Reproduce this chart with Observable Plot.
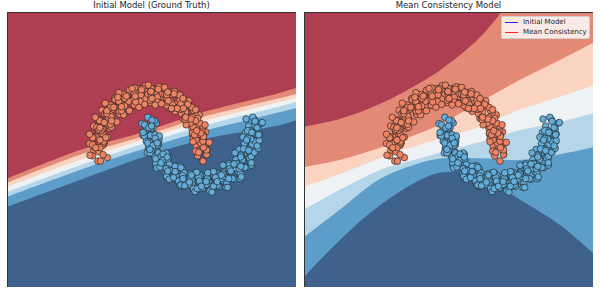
<!DOCTYPE html>
<html><head><meta charset="utf-8">
<script src="https://cdn.jsdelivr.net/npm/d3@7"></script>
<script src="https://cdn.jsdelivr.net/npm/@observablehq/plot@0.6"></script>
<style>
body{margin:0;background:#fff;font-family:"DejaVu Sans",sans-serif;}
#wrap{position:relative;width:600px;height:294px;overflow:hidden;background:#fff;}
.panel{position:absolute;top:12px;}
.title{position:absolute;top:0;font-size:8.5px;color:#222;text-align:center;width:289px;line-height:11px;white-space:nowrap;}
.legend{position:absolute;left:501px;top:16px;width:87px;height:21px;background:rgba(255,255,255,0.82);border:1px solid #d0d0d0;border-radius:2px;font-size:7px;color:#222;}
.legend .row{position:absolute;left:0;height:9px;line-height:9px;white-space:nowrap;}
.legend .ln{position:absolute;left:3px;width:13px;height:1.2px;}
.legend .tx{position:absolute;left:21px;top:0;}
</style></head><body><div id="wrap"></div>
<script>
// ---- data ----
const titles = ["Initial Model (Ground Truth)", "Mean Consistency Model"];
const legendLabels = ["Initial Model", "Mean Consistency"];
const legendColors = ["#1f1fff", "#ff2020"];
const levelColors = ["#b03e53","#e38a76","#fad4c0","#eef2f5","#b4d6e8","#5d9dc9","#3e628c"];

// decision-region boundaries (levels 1..6), sampled at x positions
const leftX = [-2.70, -1.31, -0.17, 0.97, 2.50, 2.80];
const leftB1 = [-0.45, 0.04, 0.33, 0.67, 1.02, 1.10];
const leftB2 = [-0.52, -0.04, 0.26, 0.59, 0.93, 1.00];
const leftB3 = [-0.59, -0.13, 0.20, 0.52, 0.86, 0.93];
const leftB4 = [-0.68, -0.22, 0.13, 0.44, 0.79, 0.86];
const leftB5 = [-0.76, -0.30, 0.04, 0.35, 0.69, 0.76];
const leftB6 = [-0.93, -0.47, -0.10, 0.21, 0.47, 0.55];

const rightX = [-2.70, -2.02, -1.25, -0.49, -0.06, 0.65, 1.41, 2.17, 2.80];
const rightB1 = [0.44, 0.57, 0.83, 1.19, 1.44, 1.97, 2.78, 3.40, 4.00];
const rightB2 = [-0.25, -0.13, 0.08, 0.33, 0.50, 0.86, 1.24, 1.58, 1.87];
const rightB3 = [-0.59, -0.37, -0.10, 0.13, 0.25, 0.44, 0.73, 0.95, 1.15];
const rightB4 = [-0.98, -0.64, -0.30, -0.10, 0.01, 0.18, 0.38, 0.52, 0.67];
const rightB5 = [-1.45, -0.98, -0.45, -0.18, -0.10, -0.10, -0.13, -0.03, 0.09];
const rightB6 = [-2.13, -1.50, -0.90, -0.47, -0.34, -0.40, -0.81, -1.24, -1.72];

// class 0 (upper moon, red)
const redX = [1.06,0.92,1.02,0.89,1.09,1.00,1.12,0.96,0.92,1.01,0.83,1.07,1.01,0.87,0.97,0.81,1.01,0.92,1.02,0.86,0.82,0.89,0.71,0.95,0.87,0.73,0.83,0.65,0.85,0.76,0.84,0.68,0.64,0.69,0.51,0.75,0.65,0.51,0.61,0.41,0.61,0.52,0.58,0.42,0.38,0.42,0.24,0.48,0.37,0.23,0.33,0.12,0.32,0.23,0.29,0.13,0.09,0.12,-0.06,0.18,0.06,-0.08,0.02,-0.19,0.01,-0.08,-0.03,-0.19,-0.23,-0.19,-0.37,-0.13,-0.25,-0.39,-0.29,-0.49,-0.29,-0.38,-0.32,-0.48,-0.52,-0.48,-0.66,-0.42,-0.53,-0.67,-0.57,-0.76,-0.56,-0.65,-0.58,-0.74,-0.78,-0.72,-0.90,-0.66,-0.75,-0.89,-0.79,-0.96,-0.76,-0.85,-0.76,-0.92,-0.96,-0.88,-1.06,-0.82,-0.89,-1.03,-0.93,-1.08,-0.88,-0.97,-0.86,-1.02,-1.06,-0.96,-1.14,-0.90,-0.94,-1.08,-0.98,-0.80,
1.02,0.88,1.09,0.94,1.14,0.83,1.09,0.89,1.03,0.94,1.03,0.83,0.96,0.82,1.03,0.86,1.06,0.75,0.98,0.78,0.92,0.81,0.90,0.70,0.81,0.67,0.88,0.68,0.88,0.57,0.79,0.59,0.73,0.60,0.69,0.49,0.58,0.44,0.65,0.44,0.64,0.33,0.53,0.33,0.47,0.33,0.42,0.22,0.29,0.15,0.36,0.15,0.35,0.04,0.23,0.03,0.17,0.02,0.11,-0.09,-0.02,-0.16,0.05,-0.17,0.03,-0.28,-0.09,-0.29,-0.15,-0.29,-0.20,-0.40,-0.33,-0.47,-0.26,-0.47,-0.27,-0.58,-0.38,-0.58,-0.44,-0.58,-0.49,-0.69,-0.60,-0.74,-0.53,-0.73,-0.53,-0.84,-0.62,-0.82,-0.68,-0.81,-0.72,-0.92,-0.81,-0.95,-0.74,-0.92,-0.72,-1.03,-0.80,-1.00,-0.86,-0.96,-0.87,-1.07,-0.94,-1.08,-0.87,-1.03,-0.83,-1.14,-0.88,-1.08,-0.94,-1.02,-0.93,-1.13];
const redY = [0.09,-0.05,-0.14,0.12,-0.02,0.23,0.17,0.27,0.04,0.17,0.31,0.36,0.40,0.26,0.17,0.42,0.28,0.53,0.46,0.56,0.33,0.46,0.60,0.65,0.68,0.54,0.45,0.69,0.55,0.80,0.72,0.82,0.59,0.70,0.84,0.89,0.90,0.76,0.67,0.89,0.75,1.00,0.90,1.00,0.77,0.86,1.00,1.05,1.04,0.90,0.81,1.01,0.87,1.12,1.00,1.10,0.87,0.94,1.08,1.13,1.09,0.95,0.86,1.04,0.90,1.15,1.00,1.10,0.87,0.91,1.05,1.10,1.04,0.90,0.81,0.96,0.82,1.07,0.90,1.00,0.77,0.79,0.93,0.98,0.90,0.76,0.67,0.80,0.66,0.91,0.72,0.82,0.59,0.59,0.73,0.78,0.68,0.54,0.45,0.56,0.42,0.67,0.46,0.56,0.33,0.32,0.46,0.51,0.40,0.26,0.17,0.27,0.13,0.38,0.17,0.27,0.04,0.02,0.16,0.21,0.09,-0.05,-0.14,-0.08,
0.20,0.03,-0.03,0.01,0.18,0.24,0.05,0.22,0.30,0.32,0.09,0.19,0.51,0.34,0.28,0.31,0.48,0.54,0.34,0.51,0.59,0.61,0.38,0.48,0.78,0.61,0.55,0.57,0.74,0.80,0.58,0.75,0.83,0.84,0.61,0.71,0.99,0.82,0.76,0.76,0.93,0.99,0.76,0.93,1.01,0.99,0.76,0.86,1.12,0.95,0.89,0.87,1.04,1.10,0.84,1.01,1.09,1.05,0.82,0.92,1.16,0.99,0.93,0.88,1.05,1.11,0.83,1.00,1.08,1.01,0.78,0.88,1.10,0.93,0.87,0.80,0.97,1.03,0.72,0.89,0.97,0.88,0.65,0.75,0.95,0.78,0.72,0.62,0.79,0.85,0.53,0.70,0.78,0.67,0.44,0.54,0.72,0.55,0.49,0.38,0.55,0.61,0.27,0.44,0.52,0.40,0.17,0.27,0.43,0.26,0.20,0.09,0.26,0.32,-0.03,0.14,0.22,0.09,-0.14,-0.04];

// class 1 (lower moon, blue)
const blueX = [0.13,-0.03,-0.07,0.04,-0.14,0.10,0.07,-0.07,0.03,-0.08,0.12,0.03,0.18,0.02,-0.02,0.12,-0.06,0.18,0.17,0.03,0.13,0.04,0.24,0.15,0.32,0.16,0.12,0.28,0.10,0.34,0.35,0.21,0.31,0.24,0.44,0.35,0.54,0.38,0.34,0.52,0.34,0.58,0.61,0.47,0.57,0.51,0.71,0.62,0.82,0.66,0.62,0.81,0.63,0.87,0.90,0.76,0.86,0.81,1.01,0.92,1.13,0.97,0.93,1.12,0.94,1.18,1.22,1.08,1.18,1.12,1.32,1.23,1.44,1.28,1.24,1.42,1.24,1.48,1.51,1.37,1.47,1.41,1.61,1.52,1.72,1.56,1.52,1.69,1.51,1.75,1.77,1.63,1.73,1.65,1.85,1.76,1.94,1.78,1.74,1.89,1.71,1.95,1.95,1.81,1.91,1.81,2.01,1.92,2.08,1.92,1.88,2.01,1.83,2.07,2.05,1.91,2.01,1.89,2.09,2.00,2.13,1.97,1.93,
0.11,-0.09,0.05,-0.01,0.08,-0.12,0.04,-0.10,0.11,-0.01,0.19,-0.12,0.17,-0.03,0.11,0.07,0.16,-0.04,0.15,0.01,0.22,0.12,0.32,0.01,0.32,0.12,0.26,0.25,0.34,0.14,0.34,0.20,0.41,0.33,0.53,0.22,0.55,0.35,0.49,0.49,0.58,0.38,0.60,0.46,0.67,0.60,0.80,0.49,0.84,0.64,0.78,0.78,0.87,0.67,0.90,0.76,0.97,0.91,1.11,0.80,1.15,0.95,1.09,1.10,1.19,0.99,1.22,1.08,1.29,1.22,1.42,1.11,1.46,1.26,1.40,1.40,1.49,1.29,1.51,1.37,1.58,1.51,1.71,1.40,1.73,1.53,1.67,1.66,1.75,1.55,1.75,1.61,1.82,1.74,1.94,1.63,1.94,1.74,1.88,1.85,1.94,1.74,1.93,1.79,2.00,1.89,2.09,1.78,2.07,1.87,2.01,1.96,2.05,1.85,2.01,1.87,2.08,1.95,2.15,1.84];
const blueY = [0.51,0.61,0.38,0.36,0.50,0.55,0.43,0.29,0.20,0.31,0.17,0.42,0.20,0.30,0.07,0.06,0.20,0.25,0.14,0.00,-0.09,0.02,-0.12,0.13,-0.08,0.02,-0.21,-0.21,-0.07,-0.02,-0.12,-0.26,-0.35,-0.22,-0.36,-0.11,-0.30,-0.20,-0.43,-0.41,-0.27,-0.22,-0.30,-0.44,-0.53,-0.38,-0.52,-0.27,-0.44,-0.34,-0.57,-0.53,-0.39,-0.34,-0.40,-0.54,-0.63,-0.46,-0.60,-0.35,-0.49,-0.39,-0.62,-0.56,-0.42,-0.37,-0.40,-0.54,-0.63,-0.43,-0.57,-0.32,-0.44,-0.34,-0.57,-0.48,-0.34,-0.29,-0.30,-0.44,-0.53,-0.31,-0.45,-0.20,-0.30,-0.20,-0.43,-0.32,-0.18,-0.13,-0.12,-0.26,-0.35,-0.11,-0.25,0.00,-0.08,0.02,-0.21,-0.08,0.06,0.11,0.14,0.00,-0.09,0.16,0.02,0.27,0.20,0.30,0.07,0.21,0.35,0.40,0.43,0.29,0.20,0.46,0.32,0.57,0.51,0.61,0.38,
0.31,0.48,0.56,0.43,0.20,0.30,0.46,0.29,0.23,0.12,0.29,0.35,0.00,0.17,0.25,0.13,-0.10,0.00,0.17,0.00,-0.06,-0.17,0.00,0.06,-0.27,-0.10,-0.02,-0.13,-0.36,-0.26,-0.07,-0.24,-0.30,-0.40,-0.23,-0.17,-0.48,-0.31,-0.23,-0.32,-0.55,-0.45,-0.25,-0.42,-0.48,-0.55,-0.38,-0.32,-0.61,-0.44,-0.36,-0.43,-0.66,-0.56,-0.33,-0.50,-0.56,-0.61,-0.44,-0.38,-0.65,-0.48,-0.40,-0.44,-0.67,-0.57,-0.32,-0.49,-0.55,-0.57,-0.40,-0.34,-0.59,-0.42,-0.34,-0.36,-0.59,-0.49,-0.21,-0.38,-0.44,-0.44,-0.27,-0.21,-0.44,-0.27,-0.19,-0.18,-0.41,-0.31,-0.02,-0.19,-0.25,-0.23,-0.06,0.00,-0.21,-0.04,0.04,0.06,-0.17,-0.07,0.24,0.07,0.01,0.04,0.21,0.27,0.08,0.25,0.33,0.35,0.12,0.22,0.54,0.38,0.31,0.35,0.52,0.58];

// ---- drawing ----
const W = 289, H = 275;
const xDomain = [-2.7, 2.8], yDomain = [-2.3, 2.4];
const wrap = document.getElementById("wrap");

function regionMarks(xs, bounds) {
  const marks = [Plot.frame({fill: levelColors[0], stroke: null})];
  bounds.forEach((b, i) => {
    const rows = xs.map((x, j) => ({x, y: b[j]}));
    marks.push(Plot.areaY(rows, {x: "x", y1: -10, y2: "y", fill: levelColors[i + 1], curve: "catmull-rom", clip: true}));
  });
  return marks;
}

function panel(left, xs, bounds, title) {
  const pts0 = redX.map((x, i) => ({x, y: redY[i]}));
  const pts1 = blueX.map((x, i) => ({x, y: blueY[i]}));
  const chart = Plot.plot({
    width: W, height: H, margin: 0,
    x: {domain: xDomain, axis: null},
    y: {domain: yDomain, axis: null},
    marks: [
      ...regionMarks(xs, bounds),
      Plot.dot(pts0, {x: "x", y: "y", r: 3.3, fill: "#ee8363", stroke: "#1a1a1a", strokeWidth: 0.6}),
      Plot.dot(pts1, {x: "x", y: "y", r: 3.3, fill: "#62acd9", stroke: "#1a1a1a", strokeWidth: 0.6}),
      Plot.frame({stroke: "#333", strokeWidth: 1})
    ]
  });
  const d = document.createElement("div");
  d.className = "panel";
  d.style.left = left + "px";
  d.appendChild(chart);
  wrap.appendChild(d);
  const t = document.createElement("div");
  t.className = "title";
  t.style.left = left + "px";
  t.textContent = title;
  wrap.appendChild(t);
}

panel(7, leftX, [leftB1, leftB2, leftB3, leftB4, leftB5, leftB6], titles[0]);
panel(304, rightX, [rightB1, rightB2, rightB3, rightB4, rightB5, rightB6], titles[1]);

const lg = document.createElement("div");
lg.className = "legend";
legendLabels.forEach((lab, i) => {
  const row = document.createElement("div");
  row.className = "row";
  row.style.top = (1 + i * 10) + "px";
  row.style.width = "87px";
  const ln = document.createElement("div");
  ln.className = "ln";
  ln.style.top = "4px";
  ln.style.background = legendColors[i];
  const tx = document.createElement("div");
  tx.className = "tx";
  tx.textContent = lab;
  row.appendChild(ln); row.appendChild(tx);
  lg.appendChild(row);
});
wrap.appendChild(lg);
</script></body></html>
